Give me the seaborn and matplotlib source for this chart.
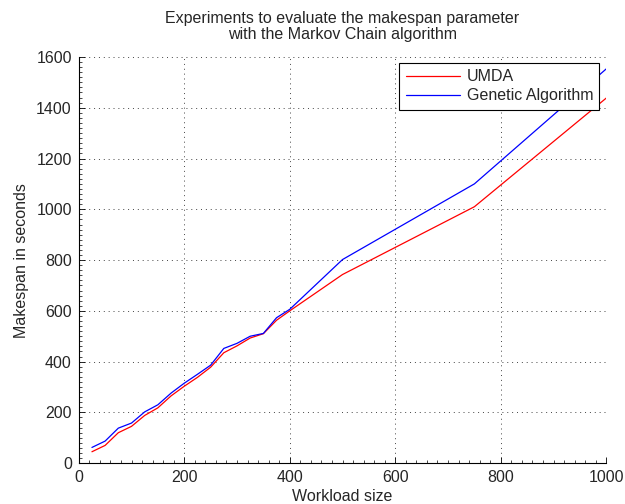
import pandas as pd
import matplotlib
matplotlib.use('Agg')
import matplotlib.pyplot as plt
import seaborn as sns
from matplotlib.ticker import MultipleLocator

#  Data
workload = [25, 50, 75, 100, 125, 150, 175, 200, 225, 250, 275, 300, 325, 350,
            375, 400, 500, 750, 1000]
umda = [45, 70, 120, 145, 188, 218, 265, 303, 338, 378, 435, 462, 493, 510,
        563, 600, 743, 1010, 1438]
genetic = [62, 87, 138, 158, 202, 230, 276, 315, 350, 386, 452, 472, 500, 511,
           573, 606, 802, 1100, 1553]

series_names = ['UMDA', 'Genetic Algorithm']
colors = ['red', 'blue']

#  Long-form table for seaborn
df = pd.DataFrame({
    'Workload size': workload * 2,
    'Makespan in seconds': umda + genetic,
    'Algorithm': [series_names[0]] * len(workload) + [series_names[1]] * len(workload),
})

sns.set_style('ticks')
plt.rcParams['font.family'] = ['Liberation Sans', 'DejaVu Sans']
fs = 11.5

fig = plt.figure(figsize=(6.25, 5.04), dpi=100)
ax = fig.add_axes([0.126, 0.081, 0.844, 0.806])

sns.lineplot(data=df, x='Workload size', y='Makespan in seconds', hue='Algorithm',
             palette=colors, linewidth=0.9, ax=ax)

ax.set_xlim(0, 1000)
ax.set_ylim(0, 1600)
ax.xaxis.set_major_locator(MultipleLocator(200))
ax.yaxis.set_major_locator(MultipleLocator(200))
ax.xaxis.set_minor_locator(MultipleLocator(20))
ax.yaxis.set_minor_locator(MultipleLocator(20))
ax.tick_params(which='both', direction='in', color='black', labelsize=fs, pad=5)
ax.tick_params(which='major', length=4, width=0.6)
ax.tick_params(which='minor', length=2, width=0.5)
ax.grid(True, which='major', linestyle=(0, (1, 4)), color='#444444', linewidth=0.7)

for side in ['top', 'right']:
    ax.spines[side].set_visible(False)
for side in ['left', 'bottom']:
    ax.spines[side].set_linewidth(0.8)
    ax.spines[side].set_color('black')

ax.set_xlabel('Workload size', fontsize=fs, labelpad=3)
ax.set_ylabel('Makespan in seconds', fontsize=fs, labelpad=5)
ax.set_title('Experiments to evaluate the makespan parameter\nwith the Markov Chain algorithm',
             fontsize=fs, pad=13, linespacing=1.05)

leg = ax.legend(loc='upper right', bbox_to_anchor=(0.987, 0.985), fontsize=fs,
                frameon=True, fancybox=False, framealpha=1, borderpad=0.4,
                handlelength=3.4, handletextpad=0.4, labelspacing=0.25, borderaxespad=0)
leg.get_frame().set_edgecolor('black')
leg.get_frame().set_linewidth(0.8)

fig.savefig('out.png', dpi=100)
